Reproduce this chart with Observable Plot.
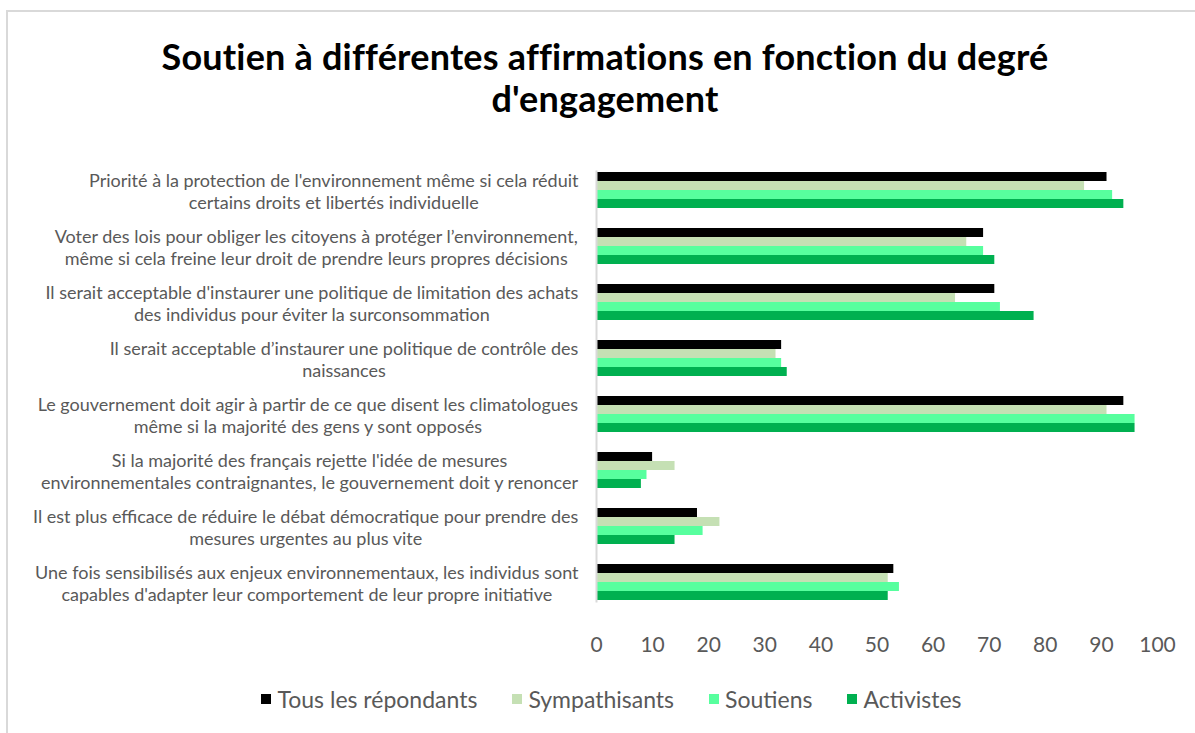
<!DOCTYPE html>
<html>
<head>
<meta charset="utf-8">
<script src="https://cdn.jsdelivr.net/npm/d3@7"></script>
<script src="https://cdn.jsdelivr.net/npm/@observablehq/plot@0.6"></script>
<style>
  html, body { margin: 0; padding: 0; width: 1195px; height: 733px; overflow: hidden; background: #fff; font-family: Lato, "Open Sans", sans-serif; }
  #border { position: absolute; left: 6px; top: 10px; width: 1400px; height: 900px; border: 2px solid #d9d9d9; box-sizing: border-box; }
  #title { position: absolute; left: 0; top: 35px; width: 1210px; text-align: center; font-weight: 700; font-size: 36px; line-height: 42px; color: #000; letter-spacing: 0.2px; }
  #chart { position: absolute; left: 0; top: 145px; }
  #legend { position: absolute; left: 0; top: 687px; width: 1223px; display: flex; justify-content: center; gap: 35px; font-size: 23px; color: #595959; line-height: 24px; }
  #legend .item { display: flex; align-items: center; gap: 6px; }
  #legend .sw { width: 10px; height: 10px; display: inline-block; }
</style>
</head>
<body>
<div id="border"></div>
<div id="title">Soutien à différentes affirmations en fonction du degré<br>d'engagement</div>
<div id="chart"></div>
<div id="legend"></div>
<script>
const categories = [
  "Priorité à la protection de l'environnement même si cela réduit\ncertains droits et libertés individuelle",
  "Voter des lois pour obliger les citoyens à protéger l’environnement,\nmême si cela freine leur droit de prendre leurs propres décisions",
  "Il serait acceptable d'instaurer une politique de limitation des achats\ndes individus pour éviter la surconsommation",
  "Il serait acceptable d’instaurer une politique de contrôle des\nnaissances",
  "Le gouvernement doit agir à partir de ce que disent les climatologues\nmême si la majorité des gens y sont opposés",
  "Si la majorité des français rejette l'idée de mesures\nenvironnementales contraignantes, le gouvernement doit y renoncer",
  "Il est plus efficace de réduire le débat démocratique pour prendre des\nmesures urgentes au plus vite",
  "Une fois sensibilisés aux enjeux environnementaux, les individus sont\ncapables d'adapter leur comportement de leur propre initiative"
];
const series = ["Tous les répondants", "Sympathisants", "Soutiens", "Activistes"];
const tousLesRepondants = [91, 69, 71, 33, 94, 10, 18, 53];
const sympathisants     = [87, 66, 64, 32, 91, 14, 22, 52];
const soutiens          = [92, 69, 72, 33, 96,  9, 19, 54];
const activistes        = [94, 71, 78, 34, 96,  8, 14, 52];
const colors = ["#000000", "#C5E0B4", "#57FF9E", "#00B050"];
const xTicks = [0, 10, 20, 30, 40, 50, 60, 70, 80, 90, 100];

const seriesValues = [tousLesRepondants, sympathisants, soutiens, activistes];
const data = [];
categories.forEach((cat, i) => {
  series.forEach((s, j) => data.push({cat, series: s, value: seriesValues[j][i]}));
});

const labelFont = 18;
const ctx = document.createElement("canvas").getContext("2d");
ctx.font = `${labelFont}px Lato`;
const labelWidth = c => Math.max(...c.split("\n").map(l => ctx.measureText(l).width));

const labelMarks = categories.map(c => Plot.text([c], {
  fy: d => d,
  text: d => d,
  frameAnchor: "left",
  textAnchor: "middle",
  dx: -(18 + labelWidth(c) / 2),
  fill: "#595959",
  fontSize: labelFont,
  lineHeight: 1.22
}));

const chart = Plot.plot({
  width: 1195,
  height: 510,
  marginLeft: 596,
  marginRight: 38,
  marginTop: 15,
  marginBottom: 42,
  style: {fontFamily: "Lato, 'Open Sans', sans-serif", background: "transparent"},
  x: {domain: [0, 100], ticks: xTicks, tickSize: 0, tickPadding: 36, label: null},
  y: {domain: series, padding: 0, axis: null},
  fy: {domain: categories, paddingInner: 0.32, paddingOuter: 0.16, axis: null, label: null},
  color: {domain: series, range: colors},
  marks: [
    Plot.barX(data, {x: "value", y: "series", fy: "cat", fill: "series"}),
    Plot.frame({anchor: "left", stroke: "#d9d9d9", strokeWidth: 2, facet: "super"}),
    Plot.axisX({ticks: xTicks, tickSize: 0, tickPadding: 36, fontSize: 21, fill: "#595959", label: null}),
    ...labelMarks
  ]
});
document.getElementById("chart").appendChild(chart);

const legend = document.getElementById("legend");
series.forEach((s, i) => {
  const item = document.createElement("div");
  item.className = "item";
  const sw = document.createElement("span");
  sw.className = "sw";
  sw.style.background = colors[i];
  const t = document.createElement("span");
  t.textContent = s;
  item.appendChild(sw);
  item.appendChild(t);
  legend.appendChild(item);
});
</script>
</body>
</html>
